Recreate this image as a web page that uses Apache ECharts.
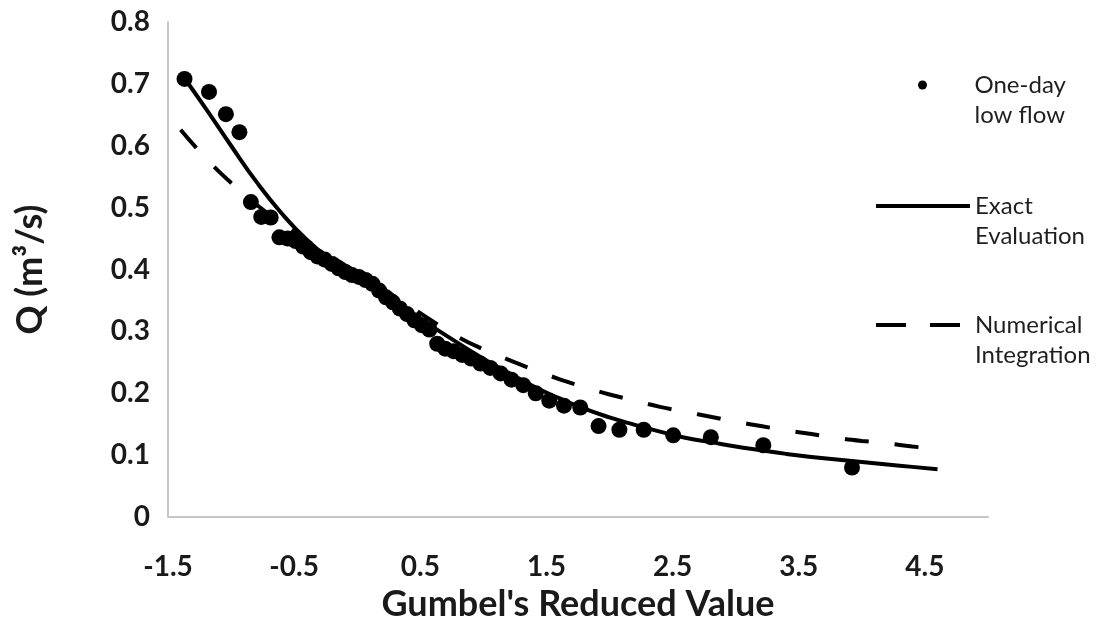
<!DOCTYPE html>
<html>
<head>
    <meta charset="utf-8"/>
    <title>Gumbel plot of one-day low flow</title>
    <script src="https://cdn.jsdelivr.net/npm/echarts@6/dist/echarts.min.js"></script>
    <style>
        html, body {
            margin: 0;
            padding: 0;
            background: #fff;
        }

        #chart {
            width: 1103px;
            height: 630px;
        }
    </style>
</head>
<body>
<div id="chart"></div>

<script>
    // observed one-day low flow against Gumbel's reduced value
    var gumbelX = [-1.369, -1.175, -1.041, -0.934, -0.843, -0.761, -0.686, -0.617, -0.551, -0.488,
        -0.428, -0.369, -0.313, -0.257, -0.202, -0.148, -0.094, -0.041, 0.013, 0.066,
        0.120, 0.174, 0.228, 0.283, 0.338, 0.395, 0.453, 0.511, 0.572, 0.634,
        0.698, 0.763, 0.832, 0.903, 0.977, 1.055, 1.137, 1.223, 1.316, 1.415,
        1.522, 1.639, 1.768, 1.913, 2.078, 2.271, 2.505, 2.803, 3.219, 3.922];
    var lowFlowQ = [0.708, 0.687, 0.651, 0.622, 0.509, 0.485, 0.484, 0.452, 0.450, 0.446,
        0.437, 0.428, 0.421, 0.416, 0.409, 0.402, 0.396, 0.391, 0.388, 0.383,
        0.377, 0.366, 0.355, 0.347, 0.337, 0.328, 0.318, 0.310, 0.303, 0.280,
        0.272, 0.268, 0.262, 0.256, 0.248, 0.241, 0.232, 0.222, 0.213, 0.200,
        0.188, 0.180, 0.177, 0.147, 0.141, 0.141, 0.132, 0.129, 0.116, 0.080];

    // both curves read at the same reduced values
    var curveX = [-1.4, -1.2, -1.0, -0.8, -0.6, -0.4, -0.2, 0, 0.2, 0.4, 0.6, 0.8, 1.0, 1.2, 1.4, 1.6,
        1.8, 2.0, 2.2, 2.4, 2.6, 2.8, 3.0, 3.2, 3.4, 3.6, 3.8, 4.0, 4.2, 4.4, 4.6];
    // exact evaluation curve
    var exactQ = [0.718, 0.660, 0.600, 0.542, 0.491, 0.448, 0.414, 0.386, 0.360, 0.334, 0.307, 0.281, 0.256, 0.233, 0.211, 0.192,
        0.175, 0.161, 0.149, 0.138, 0.128, 0.121, 0.114, 0.108, 0.102, 0.097, 0.093, 0.089, 0.085, 0.081, 0.077];
    // numerical integration curve
    var numQ = [0.626, 0.580, 0.540, 0.505, 0.475, 0.447, 0.420, 0.395, 0.369, 0.343, 0.316, 0.291, 0.271, 0.254, 0.238, 0.223,
        0.210, 0.198, 0.188, 0.178, 0.170, 0.162, 0.154, 0.147, 0.140, 0.134, 0.128, 0.123, 0.119, 0.114, 0.110];

    var seriesNames = ['One-day low flow', 'Exact Evaluation', 'Numerical Integration'];
    // leading blank line keeps the first text line level with the icon
    var legendText = ['\nOne-day\nlow flow', '\nExact\nEvaluation', '\nNumerical\nIntegration'];

    function pairs(xs, ys) {
        var out = [];
        for (var i = 0; i < xs.length; i++) {
            out.push([xs[i], ys[i]]);
        }
        return out;
    }

    var legendTextStyle = {
        fontFamily: 'Lato',
        fontSize: 24,
        color: '#1f1f1f',
        lineHeight: 30
    };

    function makeLegend(idx, left, top, itemHeight, lineStyle) {
        var lg = {
            data: [seriesNames[idx]],
            left: left,
            top: top,
            padding: 0,
            itemWidth: 94,
            itemHeight: itemHeight,
            selectedMode: false,
            formatter: function () {
                return legendText[idx];
            },
            textStyle: legendTextStyle
        };
        if (lineStyle) {
            lg.lineStyle = lineStyle;
            lg.itemStyle = {opacity: 0};
        }
        return lg;
    }

    var titleStyle = {
        fontFamily: 'Lato',
        fontSize: 36,
        fontWeight: 'bold',
        color: '#1a1a1a'
    };
    var tickStyle = {
        fontFamily: 'Lato',
        fontSize: 28,
        fontWeight: 'bold',
        color: '#1a1a1a'
    };

    var myChart = echarts.init(document.getElementById('chart'));
    var option = {
        animation: false,
        backgroundColor: '#fff',
        grid: {
            left: 168,
            right: 115,
            top: 22,
            bottom: 113
        },
        legend: [
            makeLegend(0, 918, 40, 9),
            makeLegend(1, 874, 161, 14, {width: 4, type: 'solid'}),
            makeLegend(2, 874, 280, 14, {width: 4, type: [30, 24]})
        ],
        xAxis: {
            type: 'value',
            min: -1.5,
            max: 5,
            interval: 1,
            name: "Gumbel's Reduced Value",
            nameLocation: 'middle',
            nameGap: 66,
            nameTextStyle: titleStyle,
            axisLine: {onZero: false, lineStyle: {color: '#c6c6c6', width: 2}},
            axisTick: {show: false},
            splitLine: {show: false},
            axisLabel: Object.assign({
                margin: 36,
                formatter: function (v) {
                    return v === 5 ? '' : String(v);
                }
            }, tickStyle)
        },
        yAxis: {
            type: 'value',
            min: 0,
            max: 0.8,
            interval: 0.1,
            name: 'Q (m³/s)',
            nameLocation: 'middle',
            nameGap: 120,
            nameTextStyle: titleStyle,
            axisLine: {show: true, onZero: false, lineStyle: {color: '#c6c6c6', width: 2}},
            axisTick: {show: false},
            splitLine: {show: false},
            axisLabel: Object.assign({margin: 18}, tickStyle)
        },
        series: [
            {
                name: seriesNames[0],
                type: 'scatter',
                symbol: 'circle',
                symbolSize: 16,
                itemStyle: {color: '#000', opacity: 1},
                data: pairs(gumbelX, lowFlowQ),
                z: 3
            },
            {
                name: seriesNames[1],
                type: 'line',
                smooth: true,
                symbol: 'none',
                lineStyle: {color: '#000', width: 4},
                itemStyle: {color: '#000'},
                data: pairs(curveX, exactQ),
                z: 2
            },
            {
                name: seriesNames[2],
                type: 'line',
                smooth: true,
                symbol: 'none',
                lineStyle: {color: '#000', width: 4, type: [24, 26]},
                itemStyle: {color: '#000'},
                data: pairs(curveX, numQ),
                z: 2
            }
        ]
    };
    myChart.setOption(option);
</script>
</body>
</html>
